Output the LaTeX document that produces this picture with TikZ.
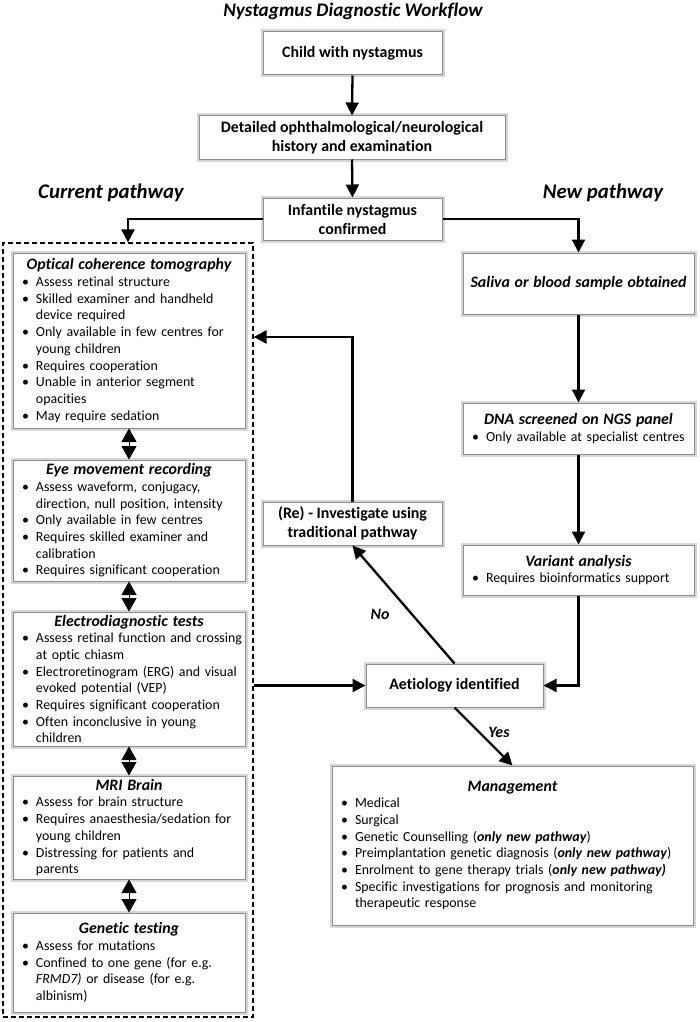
\documentclass[tikz,border=0pt]{standalone}
\usepackage{fontspec}
\setmainfont{Carlito}[Ligatures={NoCommon}]
\usetikzlibrary{arrows.meta}
\newcommand{\bodyfont}{\fontsize{13.9}{16.7}\selectfont}
\newcommand{\boxtitle}[1]{{\fontsize{15.9}{18}\selectfont\bfseries\itshape #1}}
\newcommand{\bitem}[2][220pt]{\makebox[#1][l]{\makebox[17pt][l]{\hspace{3pt}\textbullet}#2}}
\newcommand{\bcont}[2][220pt]{\makebox[#1][l]{\hspace{17pt}#2}}
\tikzset{
  gbox/.style={draw=black!45, line width=1pt, fill=white,
    preaction={draw=black!16, line width=5pt},
    inner sep=0pt, align=center, font=\bodyfont},
  mainbox/.style={gbox, font=\fontsize{15.9}{19}\selectfont\bfseries},
  lbox/.style={gbox, minimum width=232pt, text width=220pt},
  rbox/.style={gbox, minimum width=231pt, text width=219pt},
  arr/.style={line width=2.3pt, -{Triangle[width=13pt,length=13pt]}},
  darr/.style={line width=0.8pt, {Triangle[width=15pt,length=13.5pt]}-{Triangle[width=15pt,length=13.5pt]}},
  bilab/.style={font=\fontsize{15.9}{18}\selectfont\bfseries\itshape},
  pathlab/.style={font=\fontsize{20.8}{24}\selectfont\bfseries\itshape},
}
\begin{document}
\begin{tikzpicture}[x=1pt,y=-1pt]
\useasboundingbox (0,0) rectangle (700,1022);

\node[font=\fontsize{19.2}{22}\selectfont\bfseries\itshape] (title) at (353,11) {Nystagmus Diagnostic Workflow};
\node[pathlab] (curlab) at (111,193) {Current pathway};
\node[pathlab] (newlab) at (603,193) {New pathway};

\node[mainbox, minimum width=179pt, minimum height=43pt] (child) at (352.5,53.5) {Child with nystagmus};
\node[mainbox, minimum width=306pt, minimum height=43pt] (detail) at (352,137.5) {Detailed ophthalmological/neurological\\history and examination};
\node[mainbox, minimum width=179pt, minimum height=42pt] (inf) at (352.5,219) {Infantile nystagmus\\confirmed};

\node[draw, dash pattern=on 5pt off 3pt, line width=1.2pt, minimum width=250pt, minimum height=774pt, inner sep=0pt] (cur) at (128,630) {};

\node[lbox, minimum height=175pt] (oct) at (129,340.5) {\boxtitle{Optical coherence tomography}\\
\bitem{Assess retinal structure}\\
\bitem{Skilled examiner and handheld}\\
\bcont{device required}\\
\bitem{Only available in few centres for}\\
\bcont{young children}\\
\bitem{Requires cooperation}\\
\bitem{Unable in anterior segment}\\
\bcont{opacities}\\
\bitem{May require sedation}};

\node[lbox, minimum height=121pt] (eye) at (129,520.5) {\boxtitle{Eye movement recording}\\
\bitem{Assess waveform, conjugacy,}\\
\bcont{direction, null position, intensity}\\
\bitem{Only available in few centres}\\
\bitem{Requires skilled examiner and}\\
\bcont{calibration}\\
\bitem{Requires significant cooperation}};

\node[lbox, minimum height=134pt] (elec) at (129,679) {\boxtitle{Electrodiagnostic tests}\\
\bitem{Assess retinal function and crossing}\\
\bcont{at optic chiasm}\\
\bitem{Electroretinogram (ERG) and visual}\\
\bcont{evoked potential (VEP)}\\
\bitem{Requires significant cooperation}\\
\bitem{Often inconclusive in young}\\
\bcont{children}};

\node[lbox, minimum height=103pt] (mri) at (129,827.5) {\boxtitle{MRI Brain}\\
\bitem{Assess for brain structure}\\
\bitem{Requires anaesthesia/sedation for}\\
\bcont{young children}\\
\bitem{Distressing for patients and}\\
\bcont{parents}};

\node[lbox, minimum height=99pt] (gen) at (129,962.5) {\boxtitle{Genetic testing}\\
\bitem{Assess for mutations}\\
\bitem{Confined to one gene (for e.g.}\\
\bcont{\textit{FRMD7)} or disease (for e.g.}\\
\bcont{albinism)}};

\node[rbox, minimum height=61pt] (sal) at (578.5,283.5) {\boxtitle{Saliva or blood sample obtained}};
\node[rbox, minimum height=51pt] (dna) at (578.5,428.5) {\boxtitle{DNA screened on NGS panel}\\
\bitem[219pt]{Only available at specialist centres}};
\node[rbox, minimum height=50pt] (var) at (578.5,570) {\boxtitle{Variant analysis}\\
\bitem[219pt]{Requires bioinformatics support}};

\node[mainbox, minimum width=179pt, minimum height=43pt] (re) at (352.5,523.5) {(Re) - Investigate using\\traditional pathway};
\node[mainbox, minimum width=177pt, minimum height=43pt] (aet) at (454.5,685.5) {Aetiology identified};

\node[gbox, minimum width=361pt, minimum height=159pt, text width=349pt] (mg) at (512.5,845.5) {\boxtitle{Management}\\
\bitem[349pt]{Medical}\\
\bitem[349pt]{Surgical}\\
\bitem[349pt]{Genetic Counselling (\textbf{\textit{only new pathway}})}\\
\bitem[349pt]{Preimplantation genetic diagnosis (\textbf{\textit{only new pathway}})}\\
\bitem[349pt]{Enrolment to gene therapy trials (\textbf{\textit{only new pathway)}}}\\
\bitem[349pt]{Specific investigations for prognosis and monitoring}\\
\bcont[349pt]{therapeutic response}};

\coordinate (rb) at (0,337);

\draw[arr] (child.south) -- (detail.north);
\draw[arr] (detail.south) -- (inf.north);
\draw[arr] (inf.west) -| (cur.north);
\draw[arr] (inf.east) -| (sal.north);
\draw[arr] (sal.south) -- (dna.north);
\draw[arr] (dna.south) -- (var.north);
\draw[arr] (var.south) |- (aet.east);
\draw[arr] (cur.east |- aet.west) -- (aet.west);
\draw[arr] (aet.north) -- (re.south);
\draw[arr] (re.north) |- (cur.east |- rb);
\draw[arr] (aet.south) -- (mg.north);

\node[bilab] (nolab) at (380,614) {No};
\node[bilab] (yeslab) at (499,732) {Yes};

\draw[darr] (oct.south) -- (eye.north);
\draw[darr] (eye.south) -- (elec.north);
\draw[darr] (elec.south) -- (mri.north);
\draw[darr] (mri.south) -- (gen.north);
\end{tikzpicture}
\end{document}
